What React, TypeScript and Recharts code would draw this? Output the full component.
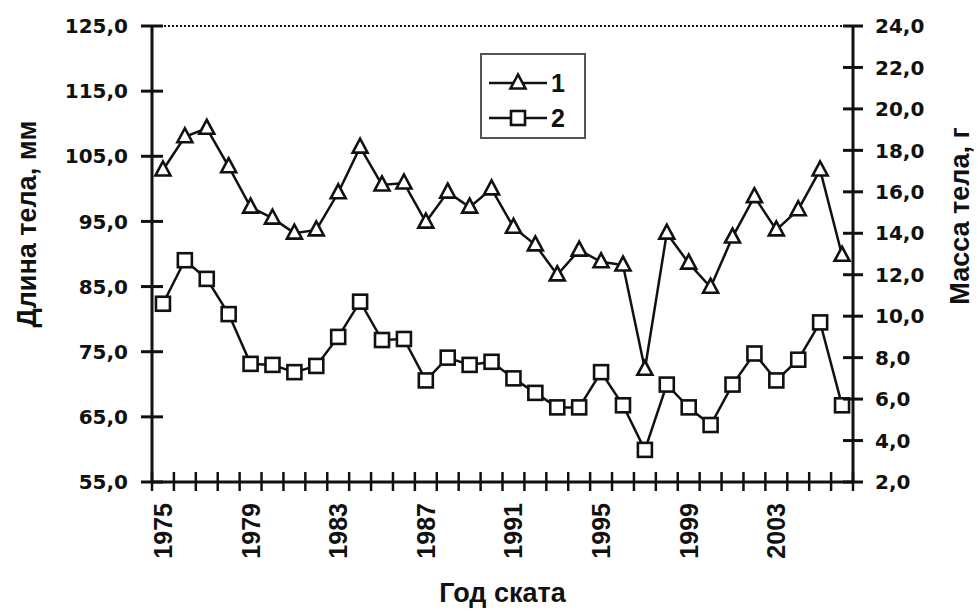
import React from 'react';
import { ComposedChart, Line, XAxis, YAxis, ReferenceLine, Legend, Label } from 'recharts';

const years = [1975, 1976, 1977, 1978, 1979, 1980, 1981, 1982, 1983, 1984, 1985, 1986, 1987, 1988, 1989, 1990,
  1991, 1992, 1993, 1994, 1995, 1996, 1997, 1998, 1999, 2000, 2001, 2002, 2003, 2004, 2005, 2006];
const lengthMm = [102.9, 108.0, 109.3, 103.4, 97.2, 95.5, 93.2, 93.7, 99.4, 106.4, 100.6, 100.9, 94.9, 99.5, 97.2, 100.0,
  94.1, 91.4, 86.8, 90.6, 88.8, 88.3, 72.3, 93.2, 88.6, 84.9, 92.6, 98.8, 93.7, 96.8, 102.9, 89.8];
const massG = [10.6, 12.7, 11.8, 10.1, 7.7, 7.65, 7.3, 7.6, 9.0, 10.7, 8.85, 8.9, 6.9, 8.0, 7.65, 7.8,
  7.0, 6.3, 5.6, 5.6, 7.3, 5.7, 3.55, 6.7, 5.6, 4.75, 6.7, 8.2, 6.9, 7.9, 9.7, 5.7];
const yearLabels = [1975, 1979, 1983, 1987, 1991, 1995, 1999, 2003];
const leftTicks = [55, 65, 75, 85, 95, 105, 115, 125];
const rightTicks = [2, 4, 6, 8, 10, 12, 14, 16, 18, 20, 22, 24];
const seriesNames = ['1', '2'];
const titles = { left: 'Длина тела, мм', right: 'Масса тела, г', bottom: 'Год ската' };

const data = years.map((y, i) => ({ year: y, length: lengthMm[i], mass: massG[i] }));
const boundaryTicks = [...years.map((y) => y - 0.5), years[years.length - 1] + 0.5];

const INK = '#111';
const TICK_FONT = '"DejaVu Sans", sans-serif';
const TITLE_FONT = '"Liberation Sans", Arial, sans-serif';
const fmt = (v: number) => v.toFixed(1).replace('.', ',');

const LeftTick = (p: any) => (
  <g>
    <line x1={p.x - 11} x2={p.x + 11} y1={p.y} y2={p.y} stroke={INK} strokeWidth={3} />
    <text x={p.x - 24} y={p.y} dy="0.36em" textAnchor="end" fontFamily={TICK_FONT} fontWeight="bold" fontSize={20} fill={INK}>
      {fmt(p.payload.value)}
    </text>
  </g>
);

const RightTick = (p: any) => (
  <g>
    <line x1={p.x - 10} x2={p.x + 10} y1={p.y} y2={p.y} stroke={INK} strokeWidth={3} />
    <text x={p.x + 22} y={p.y} dy="0.36em" textAnchor="start" fontFamily={TICK_FONT} fontWeight="bold" fontSize={20} fill={INK}>
      {fmt(p.payload.value)}
    </text>
  </g>
);

const BottomTick = (p: any) => {
  const yr = p.payload.value + 0.5;
  const band = (p.width || 701) / years.length;
  const lx = p.x + band / 2;
  return (
    <g>
      <line x1={p.x} x2={p.x} y1={p.y - 10} y2={p.y + 9} stroke={INK} strokeWidth={2.5} />
      {yearLabels.includes(yr) && (
        <text transform={`translate(${lx},${p.y + 21}) rotate(-90)`} dy="0.36em" textAnchor="end"
          fontFamily={TITLE_FONT} fontWeight="bold" fontSize={25} fill={INK}>
          {yr}
        </text>
      )}
    </g>
  );
};

const Triangle = (p: any) => {
  const { cx, cy } = p;
  if (cx == null || cy == null) return null;
  return <polygon points={`${cx},${cy - 8.5} ${cx - 7.5},${cy + 5.5} ${cx + 7.5},${cy + 5.5}`} fill="#fff" stroke={INK} strokeWidth={2.6} />;
};

const Square = (p: any) => {
  const { cx, cy } = p;
  if (cx == null || cy == null) return null;
  return <rect x={cx - 7} y={cy - 7} width={14} height={14} fill="#fff" stroke={INK} strokeWidth={2.6} />;
};

const LegendBox = () => (
  <div style={{ width: 106, height: 86, border: '2px solid #555', boxSizing: 'border-box', background: '#fff' }}>
    <svg width={102} height={82}>
      <line x1={7} x2={65} y1={28} y2={28} stroke={INK} strokeWidth={2.5} />
      <Triangle cx={36} cy={28} />
      <text x={69} y={37} fontFamily={TITLE_FONT} fontWeight="bold" fontSize={25} fill={INK}>{seriesNames[0]}</text>
      <line x1={7} x2={65} y1={63} y2={63} stroke={INK} strokeWidth={2.5} />
      <Square cx={36} cy={63} />
      <text x={69} y={72} fontFamily={TITLE_FONT} fontWeight="bold" fontSize={25} fill={INK}>{seriesNames[1]}</text>
    </svg>
  </div>
);

const LeftTitle = (p: any) => {
  const vb = p.viewBox;
  const x = vb.x + 14;
  const y = vb.y + vb.height / 2 - 30;
  return (
    <text transform={`translate(${x},${y}) rotate(-90)`} textAnchor="middle" dy="0.36em"
      fontFamily={TITLE_FONT} fontWeight="bold" fontSize={27} fill={INK}>{titles.left}</text>
  );
};

const RightTitle = (p: any) => {
  const vb = p.viewBox;
  const x = vb.x + vb.width - 4;
  const y = vb.y + vb.height / 2 - 38;
  return (
    <text transform={`translate(${x},${y}) rotate(-90)`} textAnchor="middle" dy="0.36em"
      fontFamily={TITLE_FONT} fontWeight="bold" fontSize={27} fill={INK}>{titles.right}</text>
  );
};

const BottomTitle = (p: any) => {
  const vb = p.viewBox;
  return (
    <text x={vb.x + vb.width / 2} y={vb.y + vb.height + 20} textAnchor="middle"
      fontFamily={TITLE_FONT} fontWeight="bold" fontSize={27} fill={INK}>{titles.bottom}</text>
  );
};

export default function App() {
  return (
    <div style={{ position: 'absolute', left: 0, top: 0, background: '#fff' }}>
      <ComposedChart width={979} height={612} data={data} margin={{ top: 26, right: 16, bottom: 30, left: 12 }}>
        <XAxis dataKey="year" type="number" domain={[1974.5, 2006.5]} ticks={boundaryTicks} interval={0}
          height={100} tickLine={false} tickSize={0} tickMargin={0} axisLine={{ stroke: INK, strokeWidth: 3 }}
          tick={<BottomTick />}>
          <Label content={<BottomTitle />} />
        </XAxis>
        <YAxis yAxisId="left" orientation="left" domain={[55, 125]} ticks={leftTicks} interval={0} width={140}
          tickLine={false} tickSize={0} tickMargin={0} axisLine={{ stroke: INK, strokeWidth: 3 }} tick={<LeftTick />}>
          <Label content={<LeftTitle />} />
        </YAxis>
        <YAxis yAxisId="right" orientation="right" domain={[2, 24]} ticks={rightTicks} interval={0} width={110}
          tickLine={false} tickSize={0} tickMargin={0} axisLine={{ stroke: INK, strokeWidth: 3 }} tick={<RightTick />}>
          <Label content={<RightTitle />} />
        </YAxis>
        <ReferenceLine yAxisId="left" y={125} stroke={INK} strokeWidth={2} strokeDasharray="2 2" />
        <Line yAxisId="left" dataKey="length" name={seriesNames[0]} stroke={INK} strokeWidth={2.5}
          dot={<Triangle />} activeDot={false} isAnimationActive={false} />
        <Line yAxisId="right" dataKey="mass" name={seriesNames[1]} stroke={INK} strokeWidth={2.5}
          dot={<Square />} activeDot={false} isAnimationActive={false} />
        <Legend layout="vertical" align="center" verticalAlign="middle" content={<LegendBox />}
          wrapperStyle={{ left: 480, top: 53, width: 106, height: 86 }} />
      </ComposedChart>
    </div>
  );
}
